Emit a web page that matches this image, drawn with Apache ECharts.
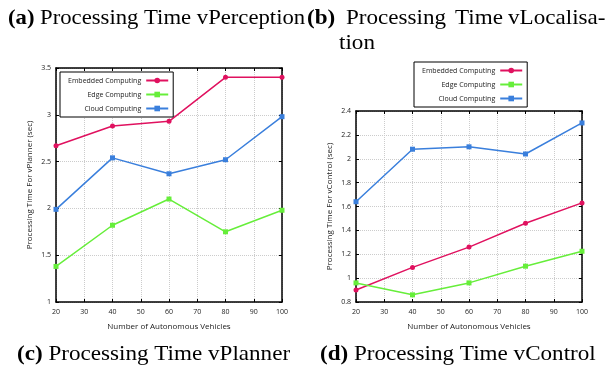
<!DOCTYPE html>
<html><head><meta charset="utf-8">
<script src="https://cdn.jsdelivr.net/npm/echarts@6/dist/echarts.min.js"></script>
<style>html,body{margin:0;padding:0;background:#fff}#c{width:608px;height:371px}</style>
</head><body><div id="c"></div>
<script>
const xVals = [20, 40, 60, 80, 100];
const seriesNames = ['Embedded Computing', 'Edge Computing', 'Cloud Computing'];
const plannerEmbedded = [2.67, 2.88, 2.93, 3.40, 3.40];
const plannerEdge = [1.38, 1.82, 2.10, 1.75, 1.98];
const plannerCloud = [1.99, 2.54, 2.37, 2.52, 2.98];
const controlEmbedded = [0.90, 1.09, 1.26, 1.46, 1.63];
const controlEdge = [0.96, 0.86, 0.96, 1.10, 1.225];
const controlCloud = [1.64, 2.08, 2.10, 2.04, 2.30];
const xAxisName = 'Number of Autonomous Vehicles';
const yNamePlanner = 'Processing Time For vPlanner (sec)';
const yNameControl = 'Processing Time For vControl (sec)';

const colors = ['#e0115f', '#66ee3a', '#3a7fdc'];
const symbols = ['circle', 'rect', 'rect'];
const FONT = 'Open Sans';

function pairs(v) { return xVals.map((x, i) => [x, v[i]]); }

const grids = [
  { left: 56, right: 326, top: 68, bottom: 69 },
  { left: 356, right: 26, top: 111, bottom: 69 }
];

function xAxes(gi) {
  return [
    { type: 'value', gridIndex: gi, min: 20, max: 100, interval: 10, position: 'bottom',
      name: xAxisName, nameLocation: 'middle', nameGap: 21,
      nameTextStyle: { fontFamily: FONT, fontSize: 8, color: '#222' },
      axisLine: { lineStyle: { color: '#000', width: 1.5 } },
      axisTick: { inside: true, length: 3, lineStyle: { color: '#000' } },
      axisLabel: { fontFamily: FONT, fontSize: 7, color: '#222', margin: 6 },
      splitLine: { show: true, lineStyle: { color: '#ccc', type: 'dotted', width: 1 } } },
    { type: 'value', gridIndex: gi, min: 20, max: 100, interval: 10, position: 'top',
      axisLine: { show: true, lineStyle: { color: '#000', width: 1.5 } },
      axisTick: { show: true, inside: true, length: 3, lineStyle: { color: '#000' } },
      axisLabel: { show: false }, splitLine: { show: false } }
  ];
}
function yAxes(gi, min, max, interval, name) {
  return [
    { type: 'value', gridIndex: gi, min: min, max: max, interval: interval, position: 'left',
      name: name, nameLocation: 'middle', nameGap: 22, nameRotate: 90,
      nameTextStyle: { fontFamily: FONT, fontSize: 8, color: '#222' },
      axisLine: { show: true, lineStyle: { color: '#000', width: 1.5 } },
      axisTick: { show: true, inside: true, length: 3, lineStyle: { color: '#000' } },
      axisLabel: { fontFamily: FONT, fontSize: 7, color: '#222', margin: 5 },
      splitLine: { show: true, lineStyle: { color: '#ccc', type: 'dotted', width: 1 } } },
    { type: 'value', gridIndex: gi, min: min, max: max, interval: interval, position: 'right',
      axisLine: { show: true, lineStyle: { color: '#000', width: 1.5 } },
      axisTick: { show: true, inside: true, length: 3, lineStyle: { color: '#000' } },
      axisLabel: { show: false }, splitLine: { show: false } }
  ];
}

function mk(name, idx, data, xi, yi) {
  return { type: 'line', name: name, xAxisIndex: xi, yAxisIndex: yi, data: pairs(data),
    symbol: symbols[idx], symbolSize: 5, showSymbol: true,
    lineStyle: { color: colors[idx], width: 1.5 }, itemStyle: { color: colors[idx] },
    animation: false };
}

const plannerData = [plannerEmbedded, plannerEdge, plannerCloud];
const controlData = [controlEmbedded, controlEdge, controlCloud];
const series = [];
seriesNames.forEach((n, i) => series.push(mk(n, i, plannerData[i], 0, 0)));
seriesNames.forEach((n, i) => series.push(mk(n, i, controlData[i], 2, 2)));

function legend(left, top) {
  return { left: left, top: top, orient: 'vertical', align: 'right', data: seriesNames,
    borderColor: '#000', borderWidth: 1, backgroundColor: '#fff', padding: [5, 4, 5, 8],
    itemWidth: 22, itemHeight: 7, itemGap: 7, selectedMode: false,
    textStyle: { fontFamily: FONT, fontSize: 7, color: '#222' } };
}

const SERIF = 'Liberation Serif';
function cap(x, y, label, text, sx) {
  return { type: 'text', x: x, y: y, scaleX: sx,
    style: { fontFamily: SERIF, fontSize: 21, fill: '#000', text: '{b|' + label + '} ' + text,
      rich: { b: { fontFamily: SERIF, fontSize: 21, fontWeight: 'bold' } } } };
}
function word(x, y, text, bold, sx) {
  return { type: 'text', x: x, y: y, scaleX: sx,
    style: { fontFamily: SERIF, fontSize: 21, fill: '#000', text: text, fontWeight: bold ? 'bold' : 'normal' } };
}

const option = {
  backgroundColor: '#fff',
  animation: false,
  grid: grids,
  xAxis: xAxes(0).concat(xAxes(1)),
  yAxis: yAxes(0, 1, 3.5, 0.5, yNamePlanner).concat(yAxes(1, 0.8, 2.4, 0.2, yNameControl)),
  legend: [legend(60, 72), legend(414, 62)],
  series: series,
  graphic: [
    cap(8, 8, '(a)', 'Processing Time vPerception', 1.08),
    word(307, 8, '(b)', true, 1.1), word(346, 8, 'Processing', false, 1.1),
    word(455, 8, 'Time', false, 1.1), word(508, 8, 'vLocalisa-', false, 1.1),
    word(339, 33, 'tion', false, 1.1),
    cap(17, 344, '(c)', 'Processing Time vPlanner', 1.1),
    cap(320, 344, '(d)', 'Processing Time vControl', 1.1)
  ]
};
echarts.init(document.getElementById('c'), null, { renderer: 'canvas' }).setOption(option);
</script></body></html>
